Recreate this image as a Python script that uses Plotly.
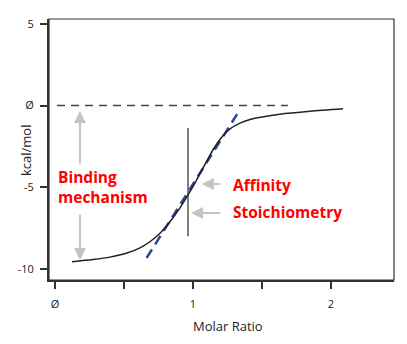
import plotly.graph_objects as go

# Titration curve (molar ratio vs. heat per injection)
ratio = [0.123, 0.275, 0.399, 0.522, 0.616, 0.688, 0.761, 0.833, 0.906, 0.964, 1.022,
         1.087, 1.152, 1.210, 1.268, 1.341, 1.413, 1.522, 1.630, 1.848, 2.087]
heat = [-9.54, -9.41, -9.26, -9.01, -8.69, -8.32, -7.80, -7.10, -6.25, -5.46, -4.61,
        -3.60, -2.61, -1.92, -1.43, -1.07, -0.85, -0.67, -0.53, -0.35, -0.20]

# Tangent at the inflection point (slope ~ affinity)
tangent_x = [0.664, 1.326]
tangent_y = [-9.31, -0.44]

# Zero baseline
baseline_x = [0.0145, 1.688]
baseline_y = [0, 0]

# Stoichiometry marker
stoich_x = [0.964, 0.964]
stoich_y = [-1.37, -7.98]

y_ticks = [5, 0, -5, -10]
y_tick_text = ["5", "Ø", "-5", "-10"]
x_ticks = [0, 0.5, 1, 1.5, 2]
x_tick_text = ["Ø", "", "1", "", "2"]

# Gray pointer arrows: (tail_x, tail_y, head_x, head_y)
arrows = [
    (0.181, -3.63, 0.181, -0.33),
    (0.181, -6.57, 0.181, -9.44),
    (1.210, -4.79, 1.065, -4.79),
    (1.210, -6.57, 0.986, -6.57),
]

# Red labels: (x, y, text)
labels = [
    (0.0145, -4.98, "Binding<br>mechanism"),
    (1.280, -4.88, "Affinity"),
    (1.280, -6.50, "Stoichiometry"),
]

fig = go.Figure()
fig.add_trace(go.Scatter(x=baseline_x, y=baseline_y, mode="lines",
                         line=dict(color="#444444", width=1.5, dash="8px,6px"),
                         hoverinfo="skip"))
fig.add_trace(go.Scatter(x=stoich_x, y=stoich_y, mode="lines",
                         line=dict(color="#555555", width=1.5),
                         hoverinfo="skip"))
fig.add_trace(go.Scatter(x=tangent_x, y=tangent_y, mode="lines",
                         line=dict(color="#2b4596", width=2.5, dash="10px,6px"),
                         hoverinfo="skip"))
fig.add_trace(go.Scatter(x=ratio, y=heat, mode="lines",
                         line=dict(color="#222222", width=1.5, shape="spline", smoothing=0.8)))

for tx, ty, hx, hy in arrows:
    fig.add_annotation(x=hx, y=hy, ax=tx, ay=ty, xref="x", yref="y",
                       axref="x", ayref="y", text="", showarrow=True,
                       arrowhead=2, arrowsize=1.2, arrowwidth=2,
                       arrowcolor="#c4c4c4")

for lx, ly, txt in labels:
    fig.add_annotation(x=lx, y=ly, xref="x", yref="y", text=txt,
                       showarrow=False, xanchor="left", yanchor="middle",
                       align="left", borderpad=0,
                       font=dict(family="Open Sans", size=15.5, color="#ff0000",
                                 weight="bold"))

fig.add_annotation(x=-0.0667, y=0.498, xref="paper", yref="paper",
                   text="kcal/mol", textangle=-90, showarrow=False,
                   xanchor="center", yanchor="middle",
                   font=dict(family="Open Sans", size=13, color="#222222"))
fig.add_annotation(x=0.520, y=-0.175, xref="paper", yref="paper",
                   text="Molar Ratio", showarrow=False,
                   xanchor="center", yanchor="middle",
                   font=dict(family="Open Sans", size=13, color="#222222"))

# thin frame on top/right; heavier axis lines drawn by the axes themselves
fig.add_shape(type="rect", xref="paper", yref="paper", x0=0, y0=0, x1=1, y1=1,
              line=dict(color="#333333", width=1.2), layer="above")

axis_common = dict(showline=True, linecolor="#333333", linewidth=2,
                   mirror=False, ticks="outside", ticklen=7, tickwidth=1.5,
                   tickcolor="#333333", showgrid=False, zeroline=False,
                   tickfont=dict(family="Open Sans", size=11, color="#222222"))

fig.update_xaxes(range=[-0.0435, 2.457], tickvals=x_ticks, ticktext=x_tick_text,
                 ticklabelstandoff=6, **axis_common)
fig.update_yaxes(range=[-10.657, 5.287], tickvals=y_ticks, ticktext=y_tick_text,
                 ticklabelstandoff=4, **axis_common)

fig.update_layout(width=407, height=344, showlegend=False,
                  margin=dict(l=49, r=13, t=19, b=64),
                  paper_bgcolor="white", plot_bgcolor="white")

fig.write_html("out.html")
